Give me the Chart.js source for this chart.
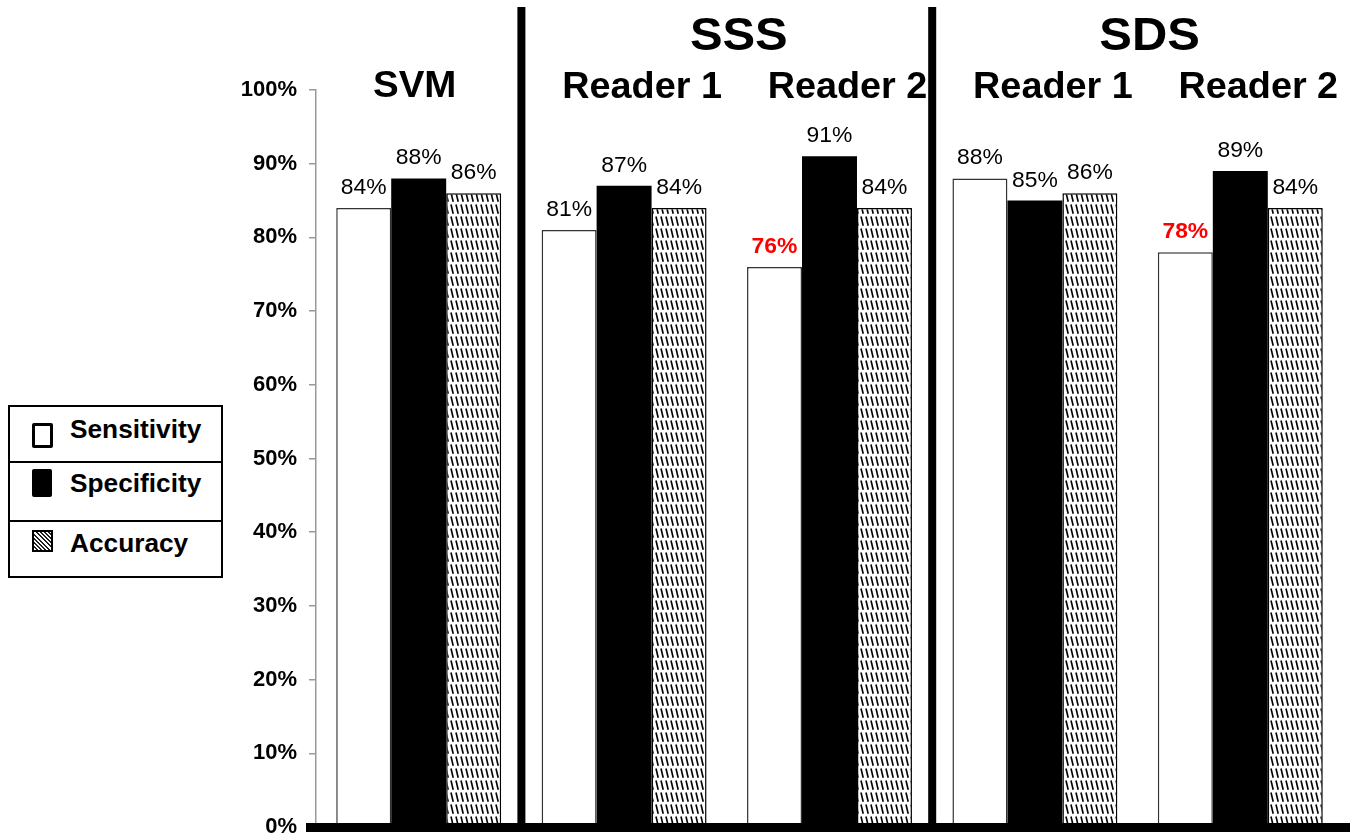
<!DOCTYPE html>
<html>
<head>
<meta charset="utf-8">
<title>SVM vs. readers: sensitivity, specificity, accuracy</title>
<script src="https://cdn.jsdelivr.net/npm/chart.js@4.4.1/dist/chart.umd.min.js"></script>
<style>
  html, body { margin: 0; padding: 0; background: #fff; }
  #wrap { position: relative; width: 1359px; height: 840px; }
  #wrap canvas { position: absolute; left: 0; top: 0; }
  .lg { position: absolute; font-family: 'Liberation Sans', Arial, sans-serif; font-weight: bold; }
  #legend { left: 8px; top: 405px; width: 211px; height: 169px; border: 2px solid #000; background: #fff; }
  .divider { position: absolute; left: 0; width: 211px; height: 2px; background: #000; }
  .icon { position: absolute; box-sizing: border-box; }
  .txt { font-size: 25px; line-height: 25px; color: #000; white-space: nowrap; transform-origin: left center; transform: scaleX(1.05); }
</style>
</head>
<body>
<div id="wrap">
  <canvas id="chart" width="1359" height="840"></canvas>
  <div id="legend" class="lg">
    <div class="divider" style="top:54px"></div>
    <div class="divider" style="top:113px"></div>
  </div>
  <div class="icon lg" style="left:32px;top:423px;width:21px;height:25px;border:3px solid #000;background:#fff;border-radius:2px"></div>
  <div class="lg txt" style="left:70px;top:417px">Sensitivity</div>
  <div class="icon lg" style="left:32px;top:469px;width:20px;height:28px;background:#000;border-radius:2px"></div>
  <div class="lg txt" style="left:70px;top:471px">Specificity</div>
  <div class="icon lg" style="left:32px;top:530px;width:21px;height:22px;border:2px solid #000;background:repeating-linear-gradient(45deg,#fff 0px,#fff 1.6px,#222 1.6px,#222 3px)"></div>
  <div class="lg txt" style="left:70px;top:531px">Accuracy</div>
</div>
<script>
// Method and reader for each bar group
const methods = ['SVM', 'SSS', 'SSS', 'SDS', 'SDS'];
const readers = ['', 'Reader 1', 'Reader 2', 'Reader 1', 'Reader 2'];

// Performance values in percent
const sensitivity = [84, 81, 76, 88, 78];
const specificity = [88, 87, 91, 85, 89];
const accuracy = [86, 84, 84, 86, 84];

// Y axis ticks (percent)
const yMin = 0;
const yMax = 100;
const yStep = 10;

// Values under this are printed in red
const warnBelow = 80;

const FONT = "'Liberation Sans', Arial, sans-serif";

function hatchPattern(ctx) {
  const c = document.createElement('canvas');
  c.width = 5; c.height = 12;
  const g = c.getContext('2d');
  g.fillStyle = '#fff';
  g.fillRect(0, 0, 5, 12);
  g.strokeStyle = '#000';
  g.lineWidth = 1.6;
  g.beginPath();
  g.moveTo(1, 0.5);
  g.lineTo(3.2, 9.8);
  g.stroke();
  return ctx.createPattern(c, 'repeat');
}

function stretchedText(ctx, text, x, y, font, color, sx) {
  ctx.save();
  ctx.font = font;
  ctx.fillStyle = color;
  ctx.textAlign = 'center';
  ctx.textBaseline = 'alphabetic';
  ctx.translate(x, y);
  ctx.scale(sx, 1);
  ctx.fillText(text, 0, 0);
  ctx.restore();
}

const decorations = {
  id: 'decorations',
  afterDatasetsDraw(chart) {
    const ctx = chart.ctx;
    const xs = chart.scales.x;
    const ys = chart.scales.y;
    const area = chart.chartArea;
    const n = methods.length;
    const centers = [];
    for (let i = 0; i < n; i++) centers.push(xs.getPixelForValue(i));
    const zeroY = ys.getPixelForValue(0);

    // value labels above bars
    chart.data.datasets.forEach((ds, di) => {
      const meta = chart.getDatasetMeta(di);
      meta.data.forEach((bar, i) => {
        const v = ds.data[i];
        const warn = v < warnBelow;
        stretchedText(ctx, v + '%', bar.x, bar.y - 14,
          (warn ? 'bold ' : '') + '22px ' + FONT, warn ? '#ff0000' : '#000', 1.04);
      });
    });

    // separators between methods
    ctx.fillStyle = '#000';
    for (let i = 0; i < n - 1; i++) {
      if (methods[i] !== methods[i + 1]) {
        const bx = (centers[i] + centers[i + 1]) / 2;
        ctx.fillRect(bx - 4, 7, 8, zeroY + 5 - 7);
      }
    }

    // thick baseline
    ctx.fillRect(area.left - 10, zeroY - 4, area.right - area.left + 17, 9);

    // method headings and reader labels
    let i = 0;
    while (i < n) {
      let j = i;
      while (j + 1 < n && methods[j + 1] === methods[i]) j++;
      if (!readers[i]) {
        stretchedText(ctx, methods[i], centers[i] - 4, 97, 'bold 37px ' + FONT, '#000', 1.04);
      } else {
        const mid = (centers[i] + centers[j]) / 2;
        stretchedText(ctx, methods[i], mid + 12, 50, 'bold 47px ' + FONT, '#000', 1.04);
        for (let k = i; k <= j; k++) {
          stretchedText(ctx, readers[k], centers[k] + 18, 98, 'bold 36px ' + FONT, '#000', 1.05);
        }
      }
      i = j + 1;
    }
  }
};

const ctx = document.getElementById('chart').getContext('2d');
const labels = methods.map((m, i) => readers[i] ? m + ' ' + readers[i] : m);

new Chart(ctx, {
  type: 'bar',
  data: {
    labels: labels,
    datasets: [
      { label: 'Sensitivity', data: sensitivity, backgroundColor: '#fff', borderColor: '#333', borderWidth: 1.5 },
      { label: 'Specificity', data: specificity, backgroundColor: '#000', borderColor: '#000', borderWidth: 0 },
      { label: 'Accuracy', data: accuracy, backgroundColor: hatchPattern(ctx), borderColor: '#000', borderWidth: 1.5 }
    ]
  },
  options: {
    responsive: false,
    animation: false,
    events: [],
    layout: { padding: { top: 90, right: 16, bottom: 13, left: 0 } },
    datasets: { bar: { barPercentage: 1.0, categoryPercentage: 0.803 } },
    plugins: { legend: { display: false }, tooltip: { enabled: false } },
    scales: {
      x: { display: false },
      y: {
        min: yMin, max: yMax,
        afterFit(scale) {
          scale.width = 316;
          scale.paddingTop = 0;
          scale.paddingBottom = 0;
        },
        border: { display: true, color: '#999', width: 1.5 },
        grid: { drawOnChartArea: false, drawTicks: true, tickLength: 7, color: '#999', lineWidth: 1.5 },
        ticks: {
          stepSize: yStep,
          padding: 12,
          color: '#000',
          font: { family: FONT, size: 22, weight: 'bold' },
          callback: v => v + '%'
        }
      }
    }
  },
  plugins: [decorations]
});
</script>
</body>
</html>
